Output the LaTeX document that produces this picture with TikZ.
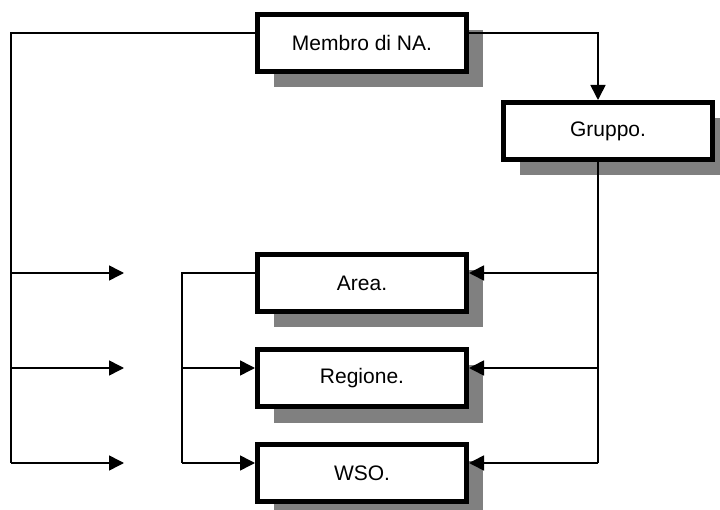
\documentclass[tikz,border=0pt]{standalone}
\usepackage{fontspec}
\setmainfont{Liberation Sans}
\usepackage{tikz}
\usetikzlibrary{positioning,shadows,arrows.meta}

\begin{document}
\begin{tikzpicture}[
  node distance=33pt and 32pt,
  box/.style={draw, line width=5pt, fill=white, minimum width=209pt, minimum height=57pt,
    font=\fontsize{21}{25}\selectfont,
    drop shadow={shadow xshift=16pt, shadow yshift=-16pt, fill=black!50, opacity=1}},
  line/.style={line width=1.6pt},
  arrow/.style={line width=1.6pt, -{Triangle[length=15pt, width=15pt]}}
]
\useasboundingbox (0,0) rectangle (720pt,-510pt);

% Top
\node[box] (membro) at (362pt,-43pt) {Membro di NA.};
\node[box, below right=26pt and 32pt of membro] (gruppo) {Gruppo.};

% Column of three
\node[box, below=178pt of membro] (area) {Area.};
\node[box, below=of area] (regione) {Regione.};
\node[box, below=of regione] (wso) {WSO.};

% Connection points
\coordinate (mL) at ([yshift=10pt]membro.west);
\coordinate (mR) at ([yshift=10pt]membro.east);
\coordinate (gN) at ([xshift=-10pt]gruppo.north);
\coordinate (gS) at ([xshift=-10pt]gruppo.south);
\coordinate (inA) at ([yshift=10pt]area.west);
\coordinate (inR) at ([yshift=10pt]regione.west);
\coordinate (inW) at ([yshift=10pt]wso.west);
\coordinate (outA) at ([yshift=10pt]area.east);
\coordinate (outR) at ([yshift=10pt]regione.east);
\coordinate (outW) at ([yshift=10pt]wso.east);
\coordinate (rail) at (11pt,0);
\coordinate (tip) at (124pt,0);
\coordinate (brk) at (182pt,0);

% Membro to Gruppo
\draw[arrow] (mR) -| (gN);

% Left rail with free arrows
\draw[line] (mL) -| (rail |- inW);
\draw[arrow] (rail |- inA) -- (tip |- inA);
\draw[arrow] (rail |- inR) -- (tip |- inR);
\draw[arrow] (rail |- inW) -- (tip |- inW);

% Area to Regione and WSO
\draw[line] (inA) -| (brk |- inW);
\draw[arrow] (brk |- inR) -- (inR);
\draw[arrow] (brk |- inW) -- (inW);

% Gruppo to the column
\draw[line] (gS) -- (gS |- outW);
\draw[arrow] (gS |- outA) -- (outA);
\draw[arrow] (gS |- outR) -- (outR);
\draw[arrow] (gS |- outW) -- (outW);

\end{tikzpicture}
\end{document}
